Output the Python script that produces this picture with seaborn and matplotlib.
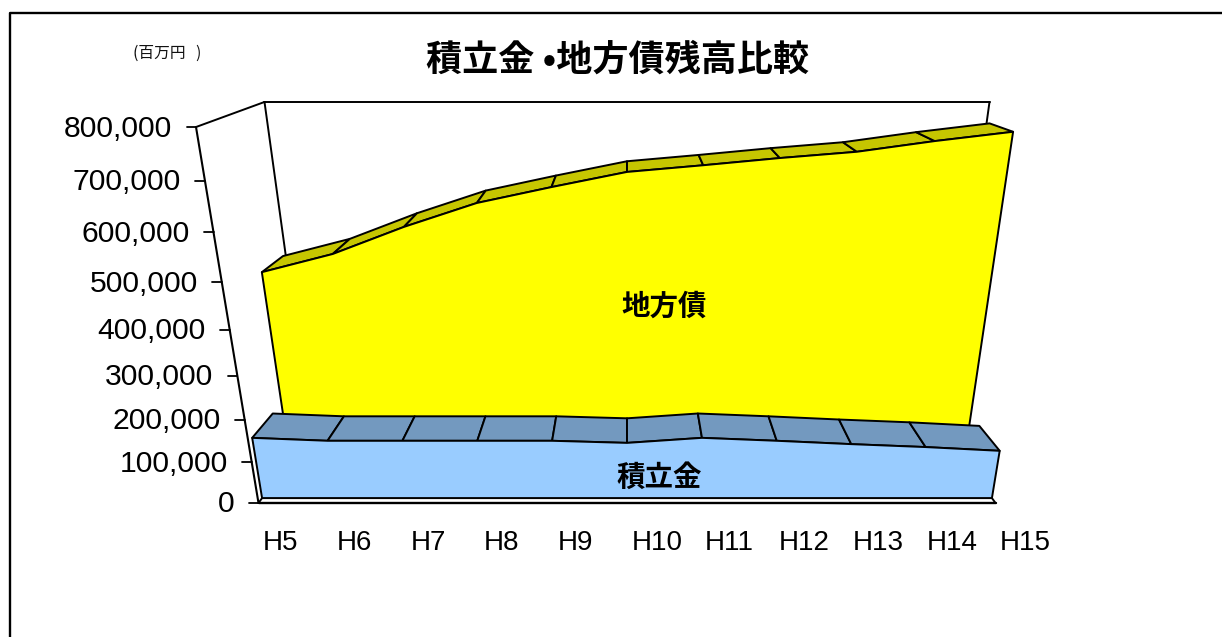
import numpy as np
import pandas as pd
import matplotlib
matplotlib.use("Agg")
import matplotlib.pyplot as plt
from matplotlib.patches import Polygon
import seaborn as sns

# ---- data ----
years = ["H5", "H6", "H7", "H8", "H9", "H10", "H11", "H12", "H13", "H14", "H15"]
fund = [147000, 140000, 140000, 140000, 140000, 135000, 147000, 140000, 132000, 125000, 116000]
bonds = [462000, 503000, 563000, 615000, 649000, 681000, 695000, 710000, 723000, 745000, 764000]
ticks = [0, 100000, 200000, 300000, 400000, 500000, 600000, 700000, 800000]
title = "積立金 •地方債残高比較"
unit = "(百万円   )"
label_fund = "積立金"
label_bonds = "地方債"

# ---- styles ----
YELLOW, YELLOW_TOP = "#FFFF00", "#C6C600"
BLUE, BLUE_TOP = "#99CCFF", "#7399BF"
EDGE = 1.4
CJK = ["Noto Sans CJK JP", "DejaVu Sans"]

# ---- perspective camera of the 3-D plot (x: -1..1, V: fraction of axis max, z: depth 0..1)
VMAX = 800000
CX, HALF = 627.0, 368.5
Y0, YV, YZ = 503.0, -394.4, -1.0
CV, CZ = -0.145, 0.163


def proj(x, val, z):
    v = np.asarray(val, float) / VMAX
    w = 1 + CV * v + CZ * z
    return CX + HALF * np.asarray(x, float) / w, (Y0 + YV * v + YZ * z) / w


sns.set_theme(style="white")
plt.rcParams["font.family"] = ["Liberation Sans", "DejaVu Sans"]

fig = plt.figure(figsize=(12.22, 6.37), dpi=100)
ax = fig.add_axes([0, 0, 1, 1])
ax.set_xlim(0, 1222)
ax.set_ylim(637, 0)
ax.axis("off")

xs = np.linspace(-1, 1, len(years))


def seg(p, q, lw=EDGE, zorder=2):
    d = pd.DataFrame({"u": [p[0], q[0]], "v": [p[1], q[1]]})
    sns.lineplot(data=d, x="u", y="v", sort=False, estimator=None, color="black",
                 lw=lw, ax=ax, zorder=zorder, legend=False)


def poly(pts, color, zorder):
    ax.add_patch(Polygon(np.array(pts), closed=True, facecolor=color, edgecolor="black",
                         lw=EDGE, joinstyle="round", zorder=zorder))


# outer frame
ax.plot([10, 10, 1225], [640, 12.5, 12.5], color="black", lw=1.7, zorder=1)

# walls
WALL = VMAX * 1.01
seg(proj(-1, WALL, 1), proj(1, WALL, 1))
seg(proj(-1, WALL, 1), proj(-1, 0, 1))
seg(proj(1, WALL, 1), proj(1, 0, 1))
seg(proj(-1, VMAX, 0), proj(-1, WALL, 1))

# axis line + ticks + labels
seg(proj(-1, VMAX, 0), proj(-1, 0, 0), lw=1.5)
for t in ticks:
    u, v = proj(-1, t, 0)
    seg((u - 9.5, v), (u, v), lw=1.3)
    ax.text(u - 24, v + 1.5, f"{t:,}", ha="right", va="center", fontsize=21.7, color="black")

# floor strip
Z_BLUE = (0.06, 0.41)
Z_YEL = (0.57, 0.95)
poly([proj(-1, 0, 0), proj(1, 0, 0), proj(1, 0, Z_BLUE[0]), proj(-1, 0, Z_BLUE[0])], "white", 3)
seg(proj(-1, 0, 0), proj(1, 0, 0), lw=1.7, zorder=3)


def area(values, zs, face, top, zbase):
    for i in range(len(values) - 1):
        poly([proj(xs[i], values[i], zs[0]), proj(xs[i + 1], values[i + 1], zs[0]),
              proj(xs[i + 1], values[i + 1], zs[1]), proj(xs[i], values[i], zs[1])], top, zbase)
    front = [proj(x, val, zs[0]) for x, val in zip(xs, values)]
    front += [proj(1, 0, zs[0]), proj(-1, 0, zs[0])]
    poly(front, face, zbase + 1)


area(bonds, Z_YEL, YELLOW, YELLOW_TOP, 4)
area(fund, Z_BLUE, BLUE, BLUE_TOP, 6)

# category labels
for x, name in zip(xs, years):
    u, _ = proj(x, 0, 0)
    ax.text(u + 4.5, 543, name, ha="left", va="center", fontsize=20, color="black")

# texts
ax.text(617.5, 60, title, ha="center", va="center", fontsize=26, fontweight="bold",
        family=CJK, color="black")
ax.text(167, 53, unit, ha="center", va="center", fontsize=11.3, family=CJK, color="#111111")
ax.text(664, 307, label_bonds, ha="center", va="center", fontsize=20.5, fontweight="bold",
        family=CJK, color="black", zorder=10)
ax.text(659.5, 478, label_fund, ha="center", va="center", fontsize=20.5, fontweight="bold",
        family=CJK, color="black", zorder=10)

fig.savefig("out.png", dpi=100, facecolor="white")
